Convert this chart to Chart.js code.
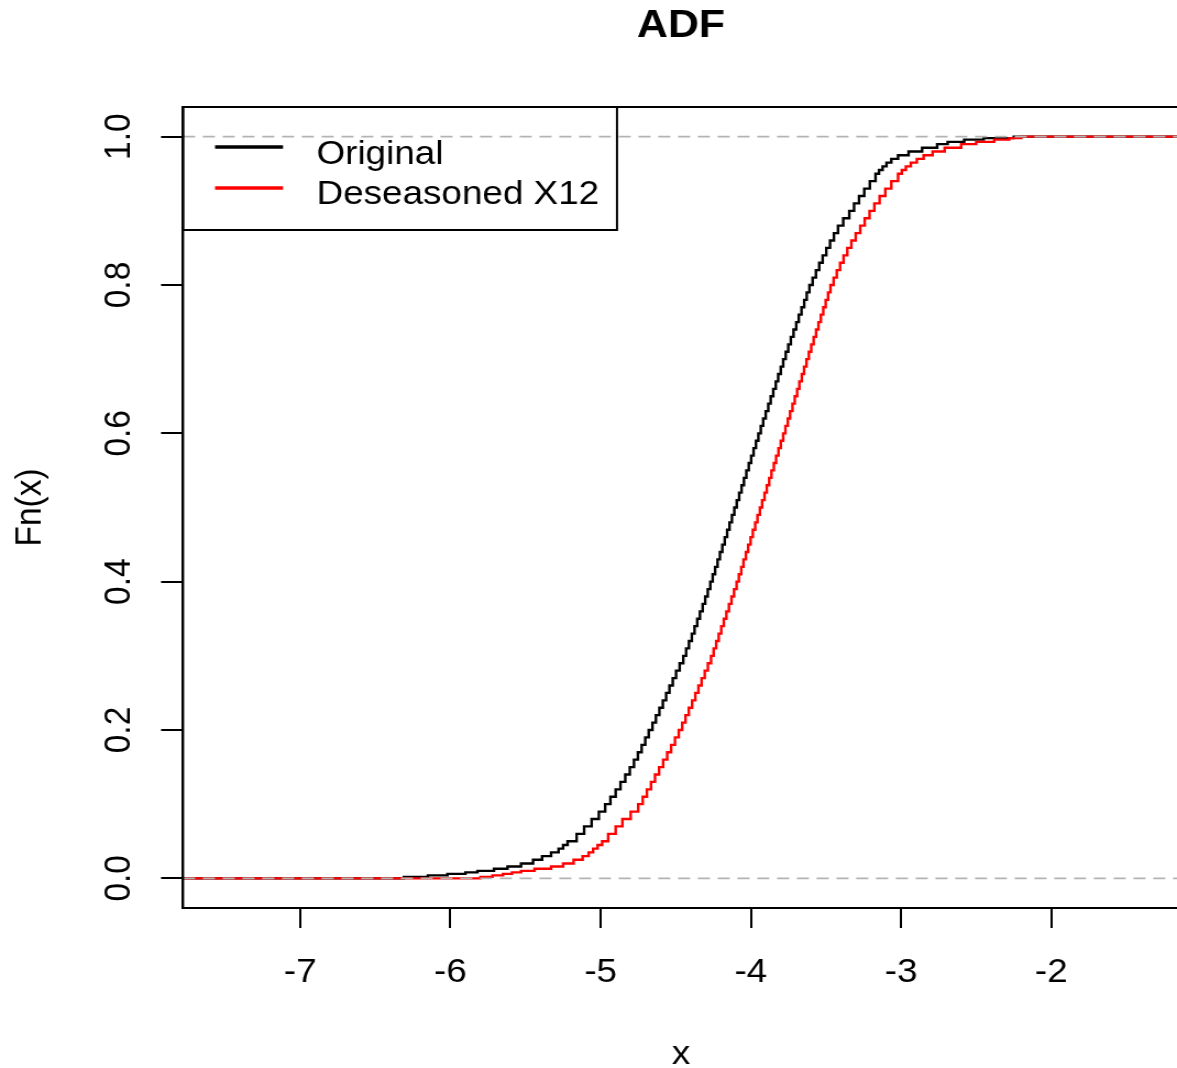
<!DOCTYPE html>
<html>
<head>
<meta charset="utf-8">
<title>ADF</title>
<script src="https://cdn.jsdelivr.net/npm/chart.js@4/dist/chart.umd.min.js"></script>
<style>
  html, body { margin: 0; padding: 0; background: #fff; overflow: hidden; width: 1177px; height: 1068px; }
  #c { display: block; transform: scaleX(1.1); transform-origin: 0 0; }
</style>
</head>
<body>
<canvas id="c" width="1080" height="1068"></canvas>
<script>
// ---------- data ----------
const chartTitle = 'ADF';
const xAxisTitle = 'x';
const yAxisTitle = 'Fn(x)';
const seriesNames = ['Original', 'Deseasoned X12'];
const seriesColors = ['#000000', '#ff0000'];

const xLimits = [-7.78, -1.15];
const yLimits = [-0.04, 1.04];
const xTicks = [-7, -6, -5, -4, -3, -2];
const xTickLabels = ['-7', '-6', '-5', '-4', '-3', '-2'];
const yTicks = [0, 0.2, 0.4, 0.6, 0.8, 1.0];
const yTickLabels = ['0.0', '0.2', '0.4', '0.6', '0.8', '1.0'];
const refLines = [0, 1];

// Fn(x) level reached at each knot (shared by both series)
const fnLevels = [0.002,0.004,0.006,0.008,0.010,0.013,0.016,0.020,0.025,0.030,0.035,0.040,0.045,0.050,
  0.06,0.07,0.08,0.09,0.10,
  0.11,0.12,0.13,0.14,0.15,0.16,0.17,0.18,0.19,0.20,
  0.21,0.22,0.23,0.24,0.25,0.26,0.27,0.28,0.29,0.30,
  0.31,0.32,0.33,0.34,0.35,0.36,0.37,0.38,0.39,0.40,
  0.41,0.42,0.43,0.44,0.45,0.46,0.47,0.48,0.49,0.50,
  0.51,0.52,0.53,0.54,0.55,0.56,0.57,0.58,0.59,0.60,
  0.61,0.62,0.63,0.64,0.65,0.66,0.67,0.68,0.69,0.70,
  0.71,0.72,0.73,0.74,0.75,0.76,0.77,0.78,0.79,0.80,
  0.81,0.82,0.83,0.84,0.85,0.86,0.87,0.88,0.89,0.90,
  0.91,0.92,0.93,0.94,0.95,
  0.955,0.96,0.965,0.97,0.975,0.98,0.985,0.99,0.993,0.996,0.998,1.0];

// knot positions (x) of the Original ECDF
const originalX = [-6.31,-6.15,-6.02,-5.90,-5.82,-5.71,-5.62,-5.53,-5.45,-5.39,-5.33,-5.28,-5.25,-5.22,
  -5.16,-5.11,-5.06,-5.012,-4.97,
  -4.935,-4.90,-4.868,-4.836,-4.806,-4.778,-4.752,-4.727,-4.703,-4.68,
  -4.655,-4.632,-4.609,-4.586,-4.564,-4.542,-4.52,-4.498,-4.474,-4.45,
  -4.431,-4.412,-4.393,-4.375,-4.357,-4.339,-4.321,-4.304,-4.287,-4.27,
  -4.254,-4.238,-4.222,-4.206,-4.19,-4.174,-4.158,-4.142,-4.126,-4.11,
  -4.094,-4.078,-4.062,-4.046,-4.03,-4.014,-3.998,-3.982,-3.966,-3.95,
  -3.934,-3.918,-3.901,-3.884,-3.868,-3.851,-3.834,-3.818,-3.801,-3.785,
  -3.768,-3.751,-3.734,-3.716,-3.698,-3.681,-3.663,-3.645,-3.628,-3.61,
  -3.589,-3.567,-3.545,-3.522,-3.498,-3.473,-3.447,-3.42,-3.385,-3.345,
  -3.313,-3.28,-3.245,-3.208,-3.17,
  -3.147,-3.123,-3.097,-3.065,-3.02,-2.95,-2.86,-2.76,-2.69,-2.58,-2.45,-2.25];

// knot positions (x) of the Deseasoned X12 ECDF
const deseasonedX = [-5.80,-5.72,-5.65,-5.59,-5.53,-5.44,-5.33,-5.25,-5.18,-5.12,-5.08,-5.05,-5.02,-4.99,
  -4.95,-4.90,-4.855,-4.80,-4.75,
  -4.72,-4.692,-4.665,-4.638,-4.611,-4.584,-4.557,-4.531,-4.505,-4.48,
  -4.457,-4.435,-4.413,-4.391,-4.37,-4.349,-4.328,-4.307,-4.286,-4.265,
  -4.248,-4.231,-4.214,-4.197,-4.18,-4.163,-4.146,-4.129,-4.112,-4.095,
  -4.08,-4.064,-4.049,-4.033,-4.018,-4.002,-3.987,-3.971,-3.956,-3.94,
  -3.925,-3.909,-3.894,-3.878,-3.863,-3.847,-3.832,-3.816,-3.801,-3.785,
  -3.77,-3.754,-3.739,-3.723,-3.708,-3.692,-3.677,-3.661,-3.646,-3.63,
  -3.614,-3.598,-3.582,-3.566,-3.55,-3.534,-3.518,-3.502,-3.486,-3.47,
  -3.449,-3.428,-3.406,-3.383,-3.358,-3.331,-3.302,-3.272,-3.242,-3.21,
  -3.178,-3.143,-3.105,-3.065,-3.02,
  -2.995,-2.968,-2.935,-2.895,-2.85,-2.79,-2.71,-2.60,-2.50,-2.38,-2.28,-2.20];

// ---------- build chart ----------
const FONT = "'Liberation Sans', Arial, Helvetica, sans-serif";

function ecdfPoints(xs, fs) {
  const pts = [{ x: xLimits[0], y: 0 }];
  for (let i = 0; i < xs.length; i++) pts.push({ x: xs[i], y: fs[i] });
  pts.push({ x: xLimits[1], y: fs[fs.length - 1] });
  return pts;
}

const refDatasets = refLines.map(v => ({
  label: 'ref' + v,
  data: [{ x: xLimits[0], y: v }, { x: xLimits[1], y: v }],
  borderColor: '#b3b3b3',
  borderWidth: 1.8,
  borderDash: [11, 7],
  pointRadius: 0,
  fill: false
}));

const datasets = [
  ...refDatasets,
  {
    label: seriesNames[1],
    data: ecdfPoints(deseasonedX, fnLevels),
    borderColor: seriesColors[1],
    borderWidth: 2.4,
    stepped: true,
    pointRadius: 0,
    fill: false
  },
  {
    label: seriesNames[0],
    data: ecdfPoints(originalX, fnLevels),
    borderColor: seriesColors[0],
    borderWidth: 2.4,
    stepped: true,
    pointRadius: 0,
    fill: false
  }
];

const boxAndLegend = {
  id: 'boxAndLegend',
  afterDraw(chart) {
    const { ctx, chartArea: a } = chart;
    ctx.save();
    ctx.strokeStyle = '#000';
    ctx.lineWidth = 2;
    ctx.strokeRect(a.left, a.top, a.right - a.left, a.bottom - a.top);
    // legend box (transparent, like R's legend)
    const lx0 = a.left, ly0 = a.top, lx1 = 560.9, ly1 = 230;
    ctx.strokeRect(lx0, ly0, lx1 - lx0, ly1 - ly0);
    ctx.font = '33.5px ' + FONT;
    ctx.textAlign = 'left';
    ctx.textBaseline = 'alphabetic';
    const rowY = [147, 188];
    const baseY = [164, 204];
    for (let i = 0; i < seriesNames.length; i++) {
      ctx.strokeStyle = seriesColors[i];
      ctx.lineWidth = 3.5;
      ctx.beginPath();
      ctx.moveTo(195.5, rowY[i]);
      ctx.lineTo(257.3, rowY[i]);
      ctx.stroke();
      ctx.fillStyle = '#000';
      ctx.fillText(seriesNames[i], 287.7, baseY[i]);
    }
    ctx.restore();
  }
};

new Chart(document.getElementById('c'), {
  type: 'line',
  data: { datasets },
  options: {
    responsive: false,
    devicePixelRatio: 1,
    animation: false,
    events: [],
    layout: { padding: { left: 0, right: 8.2, top: 0, bottom: 0 } },
    plugins: {
      legend: { display: false },
      tooltip: { enabled: false },
      title: {
        display: true,
        text: chartTitle,
        fullSize: false,
        color: '#000',
        font: { family: FONT, size: 39, weight: 'bold', lineHeight: 1 },
        padding: { top: 6.5, bottom: 61.5 }
      }
    },
    scales: {
      x: {
        type: 'linear',
        position: 'bottom',
        min: xLimits[0],
        max: xLimits[1],
        afterBuildTicks: s => { s.ticks = xTicks.map(v => ({ value: v })); },
        afterFit: s => { s.height = 160; },
        ticks: {
          autoSkip: false,
          maxRotation: 0,
          minRotation: 0,
          padding: 25,
          color: '#000',
          font: { family: FONT, size: 33.5 },
          callback: (v, i) => xTickLabels[i]
        },
        grid: { drawOnChartArea: false, drawTicks: true, tickLength: 20, color: '#000', lineWidth: 2 },
        border: { display: true, color: '#000', width: 2 },
        title: {
          display: true,
          text: xAxisTitle,
          color: '#000',
          font: { family: FONT, size: 33.5, lineHeight: 0.7 },
          padding: { top: 0, bottom: 1.3 }
        }
      },
      y: {
        type: 'linear',
        position: 'left',
        min: yLimits[0],
        max: yLimits[1],
        afterBuildTicks: s => { s.ticks = yTicks.map(v => ({ value: v })); },
        afterFit: s => { s.width = 166.4; },
        ticks: {
          autoSkip: false,
          minRotation: 90,
          maxRotation: 90,
          crossAlign: 'center',
          padding: 14.5,
          color: '#000',
          font: { family: FONT, size: 33.5 },
          callback: (v, i) => yTickLabels[i]
        },
        grid: { drawOnChartArea: false, drawTicks: true, tickLength: 20, color: '#000', lineWidth: 2 },
        border: { display: true, color: '#000', width: 2 },
        title: {
          display: true,
          text: yAxisTitle,
          color: '#000',
          font: { family: FONT, size: 33.5, lineHeight: 1 },
          padding: { top: 10.7, bottom: 0 }
        }
      }
    }
  },
  plugins: [boxAndLegend]
});
</script>
</body>
</html>
